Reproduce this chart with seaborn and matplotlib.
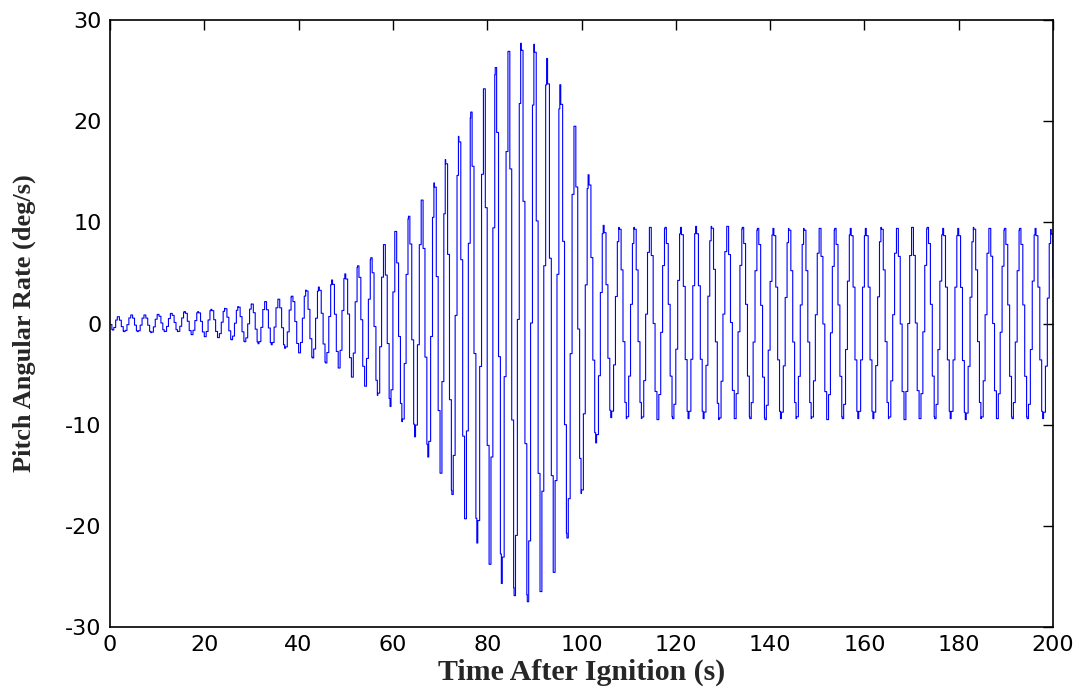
import numpy as np
import pandas as pd
import matplotlib
matplotlib.use("Agg")
import matplotlib.pyplot as plt
import seaborn as sns

# ---- data ----
# time (s) and value (deg/s) of each local maximum of the pitch rate
max_t = [1.55, 4.4, 7.2, 10.1, 12.9, 15.75, 18.6, 21.4, 24.3, 27.1, 29.95, 32.8, 35.6, 38.5,
         41.5, 44.2, 47.0, 49.8, 52.5, 55.3, 58.0, 60.4, 63.3, 66.0, 68.7, 71.1, 73.9, 76.5,
         79.2, 81.7, 84.4, 87.1, 89.9, 92.6, 95.4, 98.4, 101.4,
         104.6, 107.9, 111.1, 114.4, 117.7, 121.0, 124.2, 127.5, 130.8, 134.1, 137.3, 140.6,
         143.9, 147.1, 150.4, 153.7, 157.0, 160.2, 163.5, 166.8, 170.0, 173.3, 176.6, 179.8,
         183.1, 186.4, 189.7, 192.9, 196.2, 199.5]
max_v = [0.67, 0.84, 0.84, 0.9, 1.0, 1.17, 1.17, 1.4, 1.5, 1.66, 1.93, 2.16, 2.4, 2.7,
         3.3, 3.6, 4.3, 4.9, 5.7, 6.5, 7.8, 9.1, 10.6, 12.2, 13.9, 16.2, 18.5, 20.9,
         23.2, 25.3, 26.9, 27.7, 27.6, 26.2, 23.6, 19.5, 14.7,
         9.7, 9.5, 9.5, 9.5, 9.5, 9.5, 9.6, 9.6, 9.6, 9.5, 9.4, 9.4,
         9.4, 9.4, 9.4, 9.4, 9.4, 9.4, 9.5, 9.4, 9.5, 9.5, 9.4, 9.4,
         9.5, 9.4, 9.4, 9.4, 9.4, 9.3]
# time (s) and value (deg/s) of each local minimum
min_t = [0.5, 2.95, 5.8, 8.65, 11.5, 14.3, 17.2, 20.0, 22.85, 25.7, 28.5, 31.4, 34.2, 37.05,
         40.0, 42.9, 45.7, 48.4, 51.2, 54.0, 56.7, 59.4, 61.9, 64.6, 67.4, 70.0, 72.5, 75.2,
         77.8, 80.4, 83.0, 85.7, 88.5, 91.2, 94.0, 96.9, 99.9, 103.0,
         106.2, 109.5, 112.7, 116.0, 119.3, 122.6, 125.8, 129.1, 132.4, 135.7, 138.9, 142.2,
         145.5, 148.7, 152.0, 155.3, 158.6, 161.8, 165.1, 168.4, 171.6, 174.9, 178.2, 181.4,
         184.7, 188.0, 191.3, 194.5, 197.8]
min_v = [-0.64, -0.8, -0.8, -0.9, -0.8, -0.8, -1.1, -1.3, -1.4, -1.6, -1.8, -2.0, -2.1, -2.45,
         -2.9, -3.4, -3.9, -4.4, -5.3, -6.2, -7.1, -8.2, -9.7, -11.2, -13.2, -14.8, -16.9, -19.3,
         -21.7, -23.8, -25.7, -26.9, -27.5, -26.5, -24.6, -21.2, -16.8, -11.8,
         -9.3, -9.4, -9.4, -9.5, -9.4, -9.4, -9.4, -9.5, -9.4, -9.4, -9.5, -9.4,
         -9.4, -9.4, -9.5, -9.4, -9.4, -9.4, -9.4, -9.5, -9.4, -9.4, -9.4, -9.5,
         -9.4, -9.4, -9.4, -9.4, -9.4]
start_point = (0.0, -0.1)
end_point = (200.0, 4.5)

x_ticks = [0, 20, 40, 60, 80, 100, 120, 140, 160, 180, 200]
y_ticks = [-30, -20, -10, 0, 10, 20, 30]
x_label = "Time After Ignition (s)"
y_label = "Pitch Angular Rate (deg/s)"

# ---- sampled-and-held signal passing through the read extremes ----
ext = sorted([start_point] + list(zip(max_t, max_v)) + list(zip(min_t, min_v)) + [end_point])
ext_t = np.array([e[0] for e in ext])
ext_v = np.array([e[1] for e in ext])
sample_dt = 0.4
ts = np.unique(np.concatenate([np.arange(0.0, 200.0 + 1e-9, sample_dt), ext_t]))
ts = ts[(ts >= 0) & (ts <= 200)]
idx = np.clip(np.searchsorted(ext_t, ts, side="right") - 1, 0, len(ext_t) - 2)
u = np.clip((ts - ext_t[idx]) / (ext_t[idx + 1] - ext_t[idx]), 0, 1)
vs = ext_v[idx] + (ext_v[idx + 1] - ext_v[idx]) * (1 - np.cos(np.pi * u)) / 2
df = pd.DataFrame({"t": ts, "rate": vs})

# ---- figure ----
sns.set_style("white")
plt.rcParams["axes.unicode_minus"] = False
plt.rcParams["font.family"] = ["DejaVu Sans"]

fig = plt.figure(figsize=(10.83, 6.94), dpi=100)
ax = fig.add_axes([110 / 1083, 67 / 694, 943 / 1083, 607 / 694])

sns.lineplot(data=df, x="t", y="rate", ax=ax, color="#0000FF", linewidth=0.8,
             drawstyle="steps-post", estimator=None, sort=False, legend=False)

ax.set_xlim(0, 200)
ax.set_ylim(-30, 30)
ax.set_xticks(x_ticks)
ax.set_yticks(y_ticks)
ax.set_xticklabels([str(v) for v in x_ticks])
ax.set_yticklabels([str(v) for v in y_ticks])
ax.tick_params(axis="both", direction="in", length=7, width=1.0, labelsize=16,
               top=True, right=True, colors="black", pad=6)
for s in ax.spines.values():
    s.set_visible(True)
    s.set_color("black")
    s.set_linewidth(1.2)

ax.set_xlabel(x_label, fontfamily="Liberation Serif", fontweight="bold", fontsize=21.5)
ax.set_ylabel(y_label, fontfamily="Liberation Serif", fontweight="bold", fontsize=19)
ax.xaxis.set_label_coords(0.5, -0.052)
ax.yaxis.set_label_coords(-0.079, 0.5)

fig.savefig("out.png", dpi=100, facecolor="white")
